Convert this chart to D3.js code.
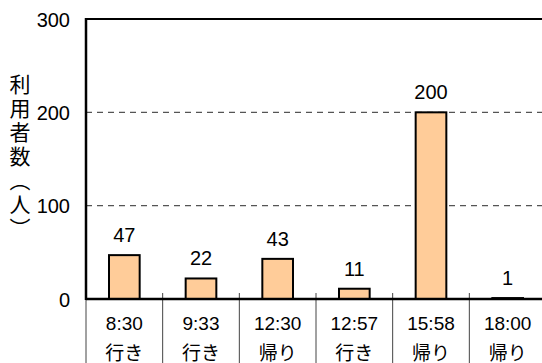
<!DOCTYPE html>
<html>
<head>
<meta charset="utf-8">
<script src="https://cdn.jsdelivr.net/npm/d3@7"></script>
<style>
  body { margin: 0; background: #fff; }
  text { font-family: "Liberation Sans", Arial, "Noto Sans CJK JP", sans-serif; }
</style>
</head>
<body>
<div id="chart"></div>
<script>
// data
const times = ["8:30", "9:33", "12:30", "12:57", "15:58", "18:00"];
const directions = ["行き", "行き", "帰り", "行き", "帰り", "帰り"];
const users = [47, 22, 43, 11, 200, 1];
const yTicks = [0, 100, 200, 300];
const yTitle = "利用者数（人）";

const width = 542,
    height = 363,
    margin = ({ top: 19, right: -4, bottom: 64, left: 86 });

let svg = d3.select("#chart")
    .append("svg")
    .attr("width", width)
    .attr("height", height);

let x = d3.scaleBand()
    .domain(times)
    .range([margin.left, width - margin.right]);

let y = d3.scaleLinear()
    .domain([0, 300])
    .range([height - margin.bottom, margin.top]);

// dashed gridlines
svg.append("g")
    .selectAll("line")
    .data([100, 200])
    .join("line")
    .attr("x1", margin.left)
    .attr("x2", width)
    .attr("y1", d => y(d))
    .attr("y2", d => y(d))
    .attr("stroke", "#555")
    .attr("stroke-width", 1.2)
    .attr("stroke-dasharray", "6,5");

// top border
svg.append("line")
    .attr("x1", margin.left).attr("x2", width)
    .attr("y1", y(300)).attr("y2", y(300))
    .attr("stroke", "#000").attr("stroke-width", 2);

// category separators
svg.append("g")
    .selectAll("line")
    .data(times.concat(["end"]))
    .join("line")
    .attr("x1", (d, i) => margin.left + i * x.step())
    .attr("x2", (d, i) => margin.left + i * x.step())
    .attr("y1", y(0) - 6)
    .attr("y2", height)
    .attr("stroke", "#444")
    .attr("stroke-width", 1);

// bars
let barW = x.bandwidth() * 0.4;
svg.append("g")
    .selectAll("rect")
    .data(users)
    .join("rect")
    .attr("x", (d, i) => x(times[i]) + (x.bandwidth() - barW) / 2)
    .attr("width", barW)
    .attr("y", d => y(d))
    .attr("height", d => y(0) - y(d))
    .attr("fill", "#FFCC99")
    .attr("stroke", "#000")
    .attr("stroke-width", 2);

svg.append("g")
    .selectAll("text")
    .data(users)
    .join("text")
    .attr("x", (d, i) => x(times[i]) + x.bandwidth() / 2)
    .attr("y", d => y(d) - 13)
    .attr("text-anchor", "middle")
    .attr("font-size", 20)
    .text(d => d);

// axes lines
svg.append("line")
    .attr("x1", margin.left).attr("x2", margin.left)
    .attr("y1", y(300) - 1).attr("y2", y(0) + 1)
    .attr("stroke", "#000").attr("stroke-width", 2.5);
svg.append("line")
    .attr("x1", margin.left).attr("x2", width)
    .attr("y1", y(0)).attr("y2", y(0))
    .attr("stroke", "#000").attr("stroke-width", 2.5);

// y tick labels
svg.append("g")
    .selectAll("text")
    .data(yTicks)
    .join("text")
    .attr("x", 70)
    .attr("y", d => y(d) + 7.5)
    .attr("text-anchor", "end")
    .attr("font-size", 20)
    .text(d => d);

// category labels (two lines)
let cat = svg.append("g")
    .selectAll("g")
    .data(times)
    .join("g");

cat.append("text")
    .attr("x", d => x(d) + x.bandwidth() / 2)
    .attr("y", 330)
    .attr("text-anchor", "middle")
    .attr("font-size", 19)
    .text(d => d);

cat.append("text")
    .attr("x", d => x(d) + x.bandwidth() / 2)
    .attr("y", 360)
    .attr("text-anchor", "middle")
    .attr("font-size", 19)
    .style("font-family", "'Noto Sans CJK JP', sans-serif")
    .text((d, i) => directions[i]);

// vertical y title
svg.append("text")
    .attr("x", 20)
    .attr("y", 74)
    .style("writing-mode", "vertical-rl")
    .style("font-family", "'Noto Sans CJK JP', sans-serif")
    .attr("font-size", 21)
    .attr("letter-spacing", 3)
    .text(yTitle);
</script>
</body>
</html>
